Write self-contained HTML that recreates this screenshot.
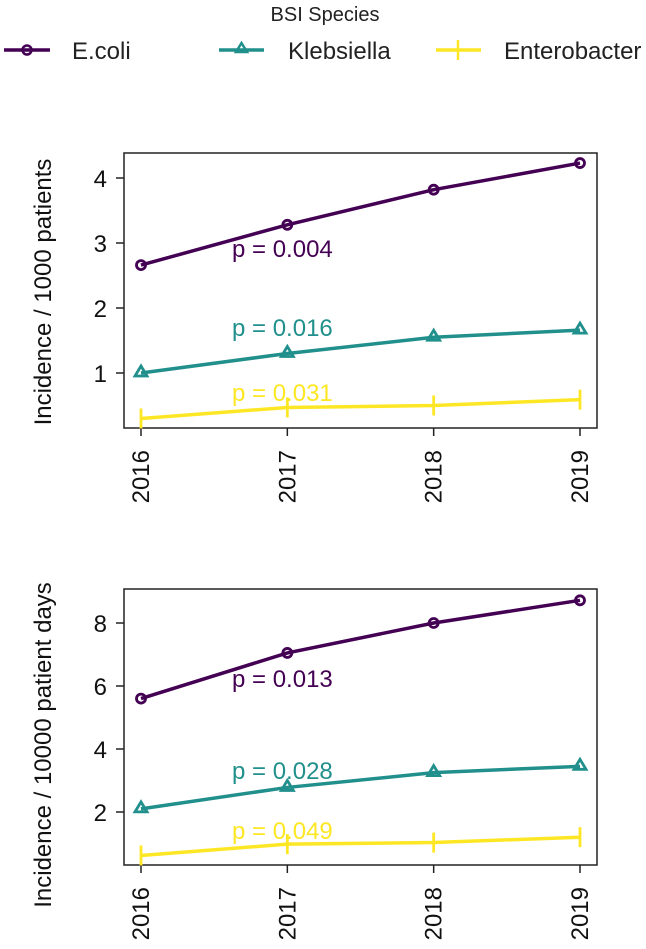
<!DOCTYPE html>
<html><head><meta charset="utf-8"><style>
html,body{margin:0;padding:0;background:#fff;overflow:hidden;}
svg{display:block;font-family:"Liberation Sans",Arial,sans-serif;}
</style></head><body>
<svg id="chart" width="646" height="949" viewBox="0 0 646 949">
<g>
<text x="325" y="21" text-anchor="middle" font-size="20" fill="#222">BSI Species</text>
<g>
<line x1="4" y1="50" x2="50" y2="50" stroke="#440154" stroke-width="3.5"/>
<circle cx="27" cy="50" r="4.5" fill="none" stroke="#440154" stroke-width="2.5"/>
<text x="72" y="59" font-size="24" fill="#222">E.coli</text></g>
<g>
<line x1="219" y1="50" x2="264" y2="50" stroke="#21908C" stroke-width="3.5"/>
<path d="M241.5,43 L247,52 L236,52 Z" fill="none" stroke="#21908C" stroke-width="2.5"/>
<text x="288" y="59" font-size="24" fill="#222">Klebsiella</text></g>
<g>
<line x1="436" y1="50" x2="481" y2="50" stroke="#FDE725" stroke-width="3.5"/>
<line x1="458" y1="40" x2="458" y2="60" stroke="#FDE725" stroke-width="2.5"/>
<text x="504" y="59" font-size="24" fill="#222">Enterobacter</text></g>
</g>
<g id="p1"></g>
<g id="p2"></g>
</svg>
<script>
const years = ["2016","2017","2018","2019"];
const ecoli1 = [2.66, 3.28, 3.82, 4.23];
const kleb1 = [1.00, 1.30, 1.55, 1.66];
const entero1 = [0.30, 0.47, 0.50, 0.59];
const ticks1 = [1, 2, 3, 4];
const pvals1 = ["p = 0.004", "p = 0.016", "p = 0.031"];
const ecoli2 = [5.60, 7.05, 8.00, 8.72];
const kleb2 = [2.10, 2.78, 3.25, 3.45];
const entero2 = [0.62, 0.98, 1.03, 1.20];
const ticks2 = [2, 4, 6, 8];
const pvals2 = ["p = 0.013", "p = 0.028", "p = 0.049"];

const NS = "http://www.w3.org/2000/svg";
function mk(parent, tag, attrs, txt){
  const e = document.createElementNS(NS, tag);
  for (const k in attrs) e.setAttribute(k, attrs[k]);
  if (txt !== undefined) e.textContent = txt;
  parent.appendChild(e); return e;
}
const colors = ["#440154", "#21908C", "#FDE725"];
const names = ["ecoli", "klebsiella", "enterobacter"];

function panel(g, cfg){
  const x = i => 141 + i * (580 - 141) / 3;
  const y = v => cfg.y0 - (v - cfg.v0) * cfg.k;
  const box = mk(g, "rect", {x:124, y:cfg.top, width:473, height:cfg.bottom - cfg.top, fill:"none", stroke:"#222", "stroke-width":1.5});
  
  
  cfg.ticks.forEach(t => {
    mk(g, "line", {x1:116, x2:124, y1:y(t), y2:y(t), stroke:"#222", "stroke-width":1.5});
    const tl = mk(g, "text", {x:107, y:y(t) + 9, "text-anchor":"end", "font-size":24, fill:"#111"}, String(t));
    
    
  });
  years.forEach((yr, i) => {
    mk(g, "line", {x1:x(i), x2:x(i), y1:cfg.bottom, y2:cfg.bottom + 8, stroke:"#222", "stroke-width":1.5});
    const tl = mk(g, "text", {x:0, y:0, "text-anchor":"end", "font-size":24, fill:"#111",
      transform:`translate(${x(i) + 8},${cfg.bottom + 22}) rotate(-90)`}, yr);
    
    
  });
  const yt = mk(g, "text", {x:0, y:0, "text-anchor":"middle", "font-size":24, fill:"#111",
    transform:`translate(51,${cfg.titleY}) rotate(-90)`}, cfg.title);
  
  
  cfg.series.forEach((s, si) => {
    const c = colors[si];
    const pts = s.map((v, i) => x(i) + "," + y(v)).join(" ");
    const pl = mk(g, "polyline", {points:pts, fill:"none", stroke:c, "stroke-width":3.5});
    
    
    s.forEach((v, i) => {
      let m;
      if (si === 0) m = mk(g, "circle", {cx:x(i), cy:y(v), r:4.5, fill:"none", stroke:c, "stroke-width":2.8});
      else if (si === 1) m = mk(g, "path", {d:`M${x(i)},${y(v)-7} L${x(i)+6},${y(v)+3} L${x(i)-6},${y(v)+3} Z`, fill:"none", stroke:c, "stroke-width":2.8});
      else m = mk(g, "path", {d:`M${x(i)},${y(v)-10} V${y(v)+10}`, stroke:c, "stroke-width":2.8});
      
      
    });
    const pt = mk(g, "text", {x:232, y:cfg.pY[si] + 9, "font-size":24, fill:c}, cfg.pv[si]);
    
    
  });
}
panel(document.getElementById("p1"), {top:153, bottom:428, y0:373, v0:1, k:65, ticks:ticks1,
  series:[ecoli1, kleb1, entero1], pv:pvals1, pY:[248, 327, 392], title:"Incidence / 1000 patients", titleY:292});
panel(document.getElementById("p2"), {top:589, bottom:865, y0:812, v0:2, k:31.5, ticks:ticks2,
  series:[ecoli2, kleb2, entero2], pv:pvals2, pY:[678, 770, 830], title:"Incidence / 10000 patient days", titleY:745});
</script>
</body></html>
